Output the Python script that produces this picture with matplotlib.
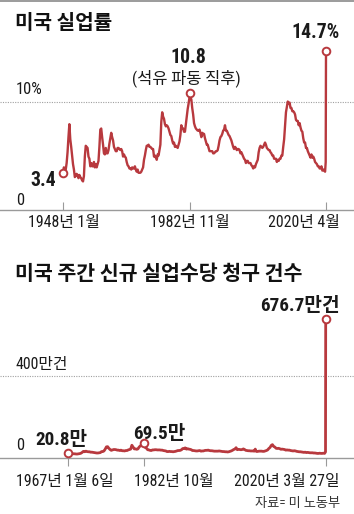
import numpy as np
import matplotlib
matplotlib.use('Agg')
import matplotlib.pyplot as plt
from matplotlib import font_manager as fm
from matplotlib import transforms as mtrans

W, H, DPI = 354, 514, 100


def has_font(name):
    try:
        fm.findfont(fm.FontProperties(family=name), fallback_to_default=False)
        return True
    except Exception:
        return False


NARROW, SQ = 'Liberation Sans', 0.85
for cand, sq in [('Liberation Sans Narrow', 1.0), ('Roboto Condensed', 0.95),
                 ('Archivo Narrow', 0.95), ('Barlow Semi Condensed', 0.9)]:
    if has_font(cand):
        NARROW, SQ = cand, sq
        break
KR = 'Noto Sans CJK KR'
FAM = [NARROW, KR]
plt.rcParams['font.family'] = FAM

RED = '#b8393e'
GRAY = '#9a9a9a'
TXT = '#1a1a1a'

# ---------------- data: US unemployment rate (%), Jan/Apr/Jul/Oct ----------------
unemp_first_year = 1948
unemp_months = [1, 4, 7, 10]
unemp_values = [
    [3.4, 3.9, 3.6, 3.7],   # 1948
    [4.3, 5.3, 6.7, 7.9],   # 1949
    [6.5, 5.8, 5.0, 4.2],
    [3.7, 3.0, 3.1, 3.3],
    [3.2, 2.9, 3.2, 3.0],
    [2.9, 2.7, 2.6, 3.1],
    [4.9, 5.9, 5.8, 5.7],
    [4.9, 4.7, 4.0, 4.3],
    [4.0, 4.0, 4.4, 3.9],
    [4.2, 3.9, 4.2, 4.5],
    [5.8, 7.4, 7.5, 6.7],   # 1958
    [6.0, 5.2, 5.1, 5.7],
    [5.2, 5.2, 5.5, 6.1],
    [6.6, 7.1, 6.7, 6.4],
    [5.8, 5.6, 5.4, 5.4],
    [5.7, 5.7, 5.6, 5.5],
    [5.6, 5.4, 4.9, 5.1],
    [4.9, 4.8, 4.4, 4.1],
    [4.0, 3.8, 3.8, 3.7],
    [3.9, 3.8, 3.8, 4.0],
    [3.7, 3.5, 3.7, 3.4],
    [3.4, 3.4, 3.5, 3.7],   # 1969
    [3.9, 4.6, 5.0, 5.5],
    [5.9, 5.9, 6.0, 5.8],
    [5.8, 5.7, 5.6, 5.6],
    [4.9, 5.0, 4.8, 4.6],
    [5.1, 5.0, 5.5, 6.0],
    [8.1, 9.0, 8.6, 8.4],   # 1975
    [7.9, 7.7, 7.8, 7.7],
    [7.5, 7.2, 6.9, 6.8],
    [6.4, 6.1, 6.2, 5.8],
    [5.9, 5.8, 5.7, 6.0],
    [6.3, 6.9, 7.8, 7.5],
    [7.5, 7.2, 7.2, 7.9],
    [8.6, 9.3, 9.8, 10.4],  # 1982
    [10.4, 10.2, 9.4, 8.8],
    [8.0, 7.7, 7.5, 7.4],
    [7.3, 7.3, 7.4, 7.1],
    [6.7, 7.1, 7.0, 7.0],
    [6.6, 6.3, 6.0, 6.0],
    [5.7, 5.4, 5.4, 5.4],
    [5.4, 5.2, 5.2, 5.3],
    [5.4, 5.4, 5.5, 5.9],
    [6.4, 6.7, 6.8, 7.0],
    [7.3, 7.4, 7.8, 7.3],
    [7.3, 7.1, 6.9, 6.8],
    [6.6, 6.4, 6.1, 5.8],
    [5.6, 5.8, 5.7, 5.5],
    [5.6, 5.6, 5.5, 5.2],
    [5.3, 5.1, 4.9, 4.7],
    [4.6, 4.3, 4.5, 4.5],
    [4.3, 4.3, 4.3, 4.1],
    [4.0, 3.8, 4.0, 3.9],   # 2000
    [4.2, 4.4, 4.6, 5.3],
    [5.7, 5.9, 5.8, 5.7],
    [5.8, 6.0, 6.2, 6.0],
    [5.7, 5.6, 5.5, 5.5],
    [5.3, 5.2, 5.0, 5.0],
    [4.7, 4.7, 4.7, 4.4],
    [4.6, 4.5, 4.7, 4.7],
    [5.0, 5.0, 5.8, 6.5],
    [7.8, 9.0, 9.5, 10.0],  # 2009
    [9.8, 9.9, 9.4, 9.4],
    [9.1, 9.1, 9.0, 8.8],
    [8.3, 8.2, 8.2, 7.8],
    [8.0, 7.6, 7.3, 7.2],
    [6.6, 6.2, 6.2, 5.7],
    [5.7, 5.4, 5.2, 5.0],
    [4.8, 5.1, 4.8, 4.9],
    [4.7, 4.4, 4.3, 4.2],
    [4.0, 4.0, 3.8, 3.8],
    [4.0, 3.6, 3.7, 3.6],   # 2019
]
unemp_extra_dates = [1982 + 10 / 12, 2020.0, 2020 + 2 / 12, 2020 + 3 / 12]
unemp_extra_values = [10.8, 3.5, 4.4, 14.7]

unemp_hl_dates = [1948.0, 1982 + 10 / 12, 2020 + 3 / 12]
unemp_hl_values = [3.4, 10.8, 14.7]
unemp_hl_labels = ['3.4', '10.8', '14.7%']
unemp_tick_labels = ['1948년 1월', '1982년 11월', '2020년 4월']

# ---------------- data: weekly initial jobless claims (만 건) ----------------
claims_first_year = 1967
claims_months = [1, 4, 7, 10]
claims_values = [
    [20.8, 22, 23, 21],   # 1967
    [20, 19, 19, 18],
    [18, 19, 20, 22],
    [26, 31, 29, 32],     # 1970
    [30, 29, 29, 27],
    [27, 26, 25, 24],
    [23, 23, 24, 25],
    [30, 30, 33, 42],
    [53, 54, 46, 40],     # 1975
    [36, 38, 40, 40],
    [39, 37, 37, 35],
    [37, 34, 34, 33],
    [35, 35, 38, 40],
    [42, 61, 52, 43],     # 1980
    [43, 41, 43, 52],
    [58, 59, 60, 63],     # 1982
    [50, 47, 39, 38],
    [36, 35, 38, 38],
    [39, 39, 38, 38],
    [38, 37, 37, 35],
    [34, 33, 30, 30],
    [31, 30, 30, 29],
    [30, 31, 33, 35],
    [35, 36, 39, 45],     # 1990
    [45, 48, 42, 44],
    [42, 41, 39, 35],
    [35, 34, 33, 33],
    [34, 35, 32, 33],
    [33, 35, 36, 36],
    [37, 35, 34, 34],
    [33, 32, 32, 32],
    [32, 33, 32, 31],
    [30, 30, 29, 29],
    [28, 29, 31, 33],     # 2000
    [36, 40, 42, 49],
    [39, 41, 40, 39],
    [40, 43, 40, 36],
    [35, 34, 34, 33],
    [33, 33, 32, 34],
    [30, 31, 32, 32],
    [32, 31, 31, 33],
    [35, 38, 45, 50],
    [60, 64, 55, 52],     # 2009
    [46, 45, 46, 44],
    [41, 42, 41, 40],
    [37, 38, 37, 37],
    [35, 34, 33, 34],
    [33, 31, 30, 29],
    [29, 28, 27, 26],
    [27, 25, 26, 25],
    [24, 24, 24, 23],
    [23, 22, 21, 21],
    [22, 21, 21, 22],     # 2019
]
claims_extra_dates = [1982.75, 2005 + 8.5 / 12, 2020.0, 2020 + 72 / 366, 2020 + 79 / 366, 2020 + 86 / 366]
claims_extra_values = [69.5, 42, 21, 28.2, 330.7, 676.7]

claims_hl_dates = [1967 + 5 / 365, 1982.75, 2020 + 86 / 366]
claims_hl_values = [20.8, 69.5, 676.7]
claims_hl_labels = ['20.8만', '69.5만', '676.7만건']
claims_tick_labels = ['1967년 1월 6일', '1982년 10월', '2020년 3월 27일']


def build_series(first_year, months, values, extra_d, extra_v):
    d, v = [], []
    for i, row in enumerate(values):
        for m, val in zip(months, row):
            d.append(first_year + i + (m - 1) / 12)
            v.append(val)
    d += list(extra_d)
    v += list(extra_v)
    order = np.argsort(d, kind='stable')
    return np.array(d)[order], np.array(v)[order]


u_d, u_v = build_series(unemp_first_year, unemp_months, unemp_values, unemp_extra_dates, unemp_extra_values)
u_d[0] = 1948.0
c_d, c_v = build_series(claims_first_year, claims_months, claims_values, claims_extra_dates, claims_extra_values)
c_d[0] = claims_hl_dates[0]


def fy(px):
    return 1 - px / H


def fx(px):
    return px / W


fig = plt.figure(figsize=(W / DPI, H / DPI), dpi=DPI)
fig.patch.set_facecolor('white')

# top rule
fig.add_artist(plt.Line2D([0, 1], [fy(0.7), fy(0.7)], color='#8a8a8a', lw=1.2))

# ---------------- chart 1 ----------------
base1, top1 = 209.5, 30
scale1 = 10.8  # px per %
ax1 = fig.add_axes([0, fy(base1), 1, (base1 - top1) / H])
sx1 = 263 / (2020.25 - 1948.0)
x0 = 1948.0 - 63 / sx1
ax1.set_xlim(x0, x0 + W / sx1)
ax1.set_ylim(0, (base1 - top1) / scale1)
for s in ax1.spines.values():
    s.set_visible(False)
ax1.set_yticks([])
ax1.set_xticks(unemp_hl_dates)
ax1.tick_params(axis='x', direction='in', length=5.5, width=0.8, color=GRAY, labelbottom=False)
ax1.axhline(0, color=GRAY, lw=1.0, zorder=1, clip_on=False)
ax1.axhline(10, color='#a0a0a0', lw=0.8, ls=(0, (1, 1.2)), zorder=1)
ax1.plot(u_d, u_v, color=RED, lw=1.7, zorder=3, solid_joinstyle='round')
ax1.plot(unemp_hl_dates, unemp_hl_values, 'o', ms=5.5, mfc='white', mec=RED, mew=1.4, zorder=5)

lab_off1 = [(-7, -8, 'right'), (-1, 35, 'center'), (14, 18, 'right')]
for d, v, t, (dx, dy, ha) in zip(unemp_hl_dates, unemp_hl_values, unemp_hl_labels, lab_off1):
    ax1.annotate(t, (d, v), xytext=(dx, dy), textcoords='offset pixels', ha=ha, va='center',
                 fontsize=15 * SQ, fontweight='bold', color=TXT)
ax1.annotate('(석유 파동 직후)', (unemp_hl_dates[1], unemp_hl_values[1]), xytext=(-3, 14.5),
             textcoords='offset pixels', ha='center', va='center', fontsize=12.5 * SQ, color=TXT)

bt1 = mtrans.blended_transform_factory(ax1.transData, fig.transFigure)
tick_off1 = [(0.5, 'center'), (0, 'center'), (14, 'right')]
for d, t, (dx, ha) in zip(unemp_hl_dates, unemp_tick_labels, tick_off1):
    ax1.annotate(t, (d, fy(223)), xycoords=bt1, xytext=(dx, 0), textcoords='offset pixels',
                 ha=ha, va='center', fontsize=12 * SQ, color=TXT, annotation_clip=False)

fig.text(fx(15), fy(22.5), '미국 실업률', family=[KR], fontsize=14.5, fontweight='bold',
         color='#111111', ha='left', va='center')
fig.text(fx(16), fy(89), '10%', fontsize=12.5 * SQ, color=TXT, ha='left', va='center')
fig.text(fx(16), fy(201), '0', fontsize=12.5 * SQ, color=TXT, ha='left', va='center')

# ---------------- chart 2 ----------------
base2, top2 = 457.7, 285
scale2 = 0.2045  # px per 만
ax2 = fig.add_axes([0, fy(base2), 1, (base2 - top2) / H])
sx2 = (325.7 - 67.7) / (claims_hl_dates[2] - claims_hl_dates[0])
x0b = claims_hl_dates[0] - 67.7 / sx2
ax2.set_xlim(x0b, x0b + W / sx2)
ax2.set_ylim(0, (base2 - top2) / scale2)
for s in ax2.spines.values():
    s.set_visible(False)
ax2.set_yticks([])
ax2.set_xticks(claims_hl_dates)
ax2.tick_params(axis='x', direction='out', length=6, width=0.8, color=GRAY, labelbottom=False)
ax2.axhline(0, color=GRAY, lw=1.0, zorder=1, clip_on=False)
ax2.axhline(400, color='#a0a0a0', lw=0.8, ls=(0, (1, 1.2)), zorder=1)
ax2.plot(c_d, c_v, color=RED, lw=2.0, zorder=3, solid_joinstyle='round')
ax2.plot(claims_hl_dates, claims_hl_values, 'o', ms=5.5, mfc='white', mec=RED, mew=1.4, zorder=5)

lab_off2 = [(-6, 13, 'center'), (15, 9, 'center'), (14, 13.5, 'right')]
for d, v, t, (dx, dy, ha) in zip(claims_hl_dates, claims_hl_values, claims_hl_labels, lab_off2):
    ax2.annotate(t, (d, v), xytext=(dx, dy), textcoords='offset pixels', ha=ha, va='center',
                 fontsize=14.5 * SQ, fontweight='bold', color=TXT)

bt2 = mtrans.blended_transform_factory(ax2.transData, fig.transFigure)
tick_off2 = [(-3, 'center'), (-10, 'left'), (14, 'right')]
for d, t, (dx, ha) in zip(claims_hl_dates, claims_tick_labels, tick_off2):
    ax2.annotate(t, (d, fy(481.5)), xycoords=bt2, xytext=(dx, 0), textcoords='offset pixels',
                 ha=ha, va='center', fontsize=12 * SQ, color=TXT, annotation_clip=False)

fig.text(fx(15), fy(273), '미국 주간 신규 실업수당 청구 건수', family=[KR], fontsize=14.8,
         fontweight='bold', color='#111111', ha='left', va='center')
fig.text(fx(16), fy(364.5), '400만건', fontsize=12 * SQ, color=TXT, ha='left', va='center')
fig.text(fx(16), fy(446), '0', fontsize=12.5 * SQ, color=TXT, ha='left', va='center')
fig.text(fx(340), fy(503.5), '자료= 미 노동부', fontsize=9.5, color='#333333', ha='right', va='center')

fig.savefig('out.png', dpi=DPI, facecolor='white')
